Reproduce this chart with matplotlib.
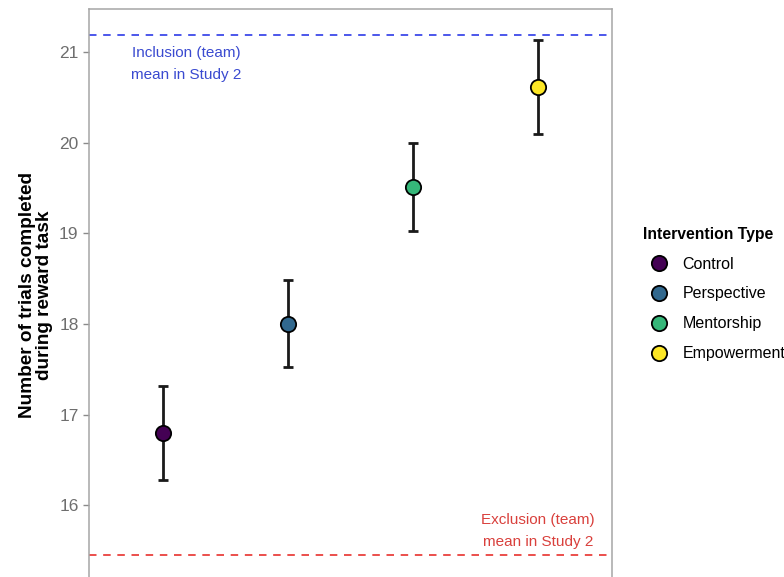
import numpy as np
import matplotlib.pyplot as plt
from matplotlib.lines import Line2D

plt.rcParams['font.family'] = ['Liberation Sans', 'DejaVu Sans']

# group means and error bar half-widths
groups = ['Control', 'Perspective', 'Mentorship', 'Empowerment']
means = [16.80, 18.00, 19.51, 20.61]
errs = [0.52, 0.48, 0.49, 0.52]
colors = ['#440154', '#31688e', '#35b779', '#fde725']

# reference means from Study 2
inclusion_mean = 21.19
exclusion_mean = 15.45

fig = plt.figure(figsize=(7.84, 5.77), dpi=100)
ax = fig.add_axes([0.1135, -0.033, 0.6665, 1.017])

x = np.arange(1, len(groups) + 1)
for xi, m, e, c in zip(x, means, errs, colors):
    ax.errorbar(xi, m, yerr=e, fmt='none', ecolor='#1a1a1a', elinewidth=2.0,
                capsize=3.8, capthick=2.0, zorder=2)
    ax.plot(xi, m, 'o', markersize=11, markerfacecolor=c,
            markeredgecolor='black', markeredgewidth=1.3, zorder=3)

ax.axhline(inclusion_mean, color='#2d3be8', linestyle=(0, (4.5, 4)), linewidth=1.2, zorder=1)
ax.axhline(exclusion_mean, color='#e8312d', linestyle=(0, (4.5, 4)), linewidth=1.2, zorder=1)

ax.text(1.19, 21.065, 'Inclusion (team)\nmean in Study 2', color='#3a4ad0',
        ha='center', va='top', fontsize=11, linespacing=1.7)
ax.text(4.0, 15.52, 'Exclusion (team)\nmean in Study 2', color='#d9403c',
        ha='center', va='bottom', fontsize=11, linespacing=1.7)

ax.set_xlim(0.41, 4.59)
ax.set_ylim(15.0, 21.47)
ax.set_yticks([16, 17, 18, 19, 20, 21])
ax.set_xticks([])
ax.tick_params(axis='y', colors='#8a8a8a', labelcolor='#6e6e6e', labelsize=12.5,
               length=4, width=1)
for side in ['left', 'right', 'top', 'bottom']:
    ax.spines[side].set_color('#a6a6a6')
    ax.spines[side].set_linewidth(1.1)

ax.set_ylabel('Number of trials completed\nduring reward task', fontsize=13.7,
              fontweight='bold', linespacing=1.02)
ax.yaxis.set_label_coords(-0.068, 0.513)

handles = [Line2D([], [], marker='o', linestyle='none', markersize=11,
                  markerfacecolor=c, markeredgecolor='black', markeredgewidth=1.3)
           for c in colors]
leg = fig.legend(handles, groups, title='Intervention Type', loc='upper left',
                 bbox_to_anchor=(0.802, 0.632), frameon=False, fontsize=11.5,
                 title_fontproperties={'weight': 'bold', 'size': 11.3},
                 handletextpad=0.45, labelspacing=0.93)
leg._legend_box.align = 'left'

fig.savefig('out.png', dpi=100)
